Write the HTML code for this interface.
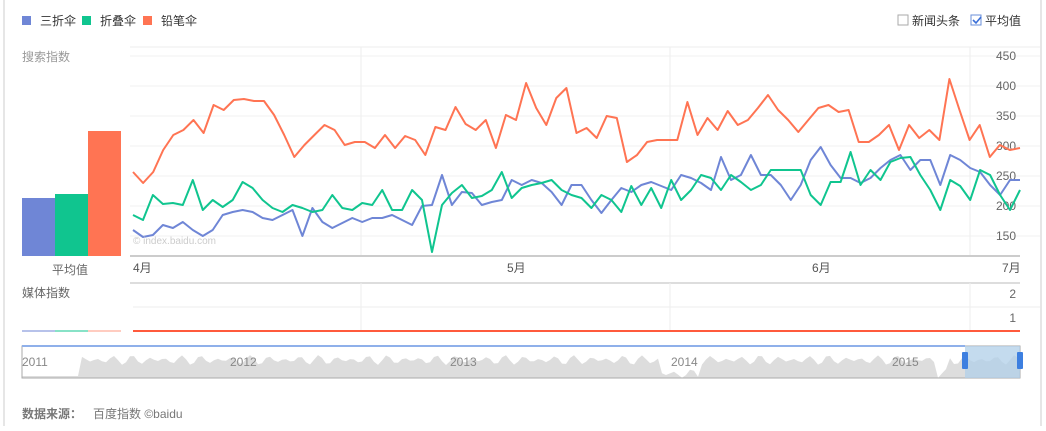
<!DOCTYPE html>
<html><head><meta charset="utf-8"><style>
body{margin:0;width:1046px;height:426px;background:#fff;overflow:hidden;font-family:"Liberation Sans","Noto Sans CJK SC",sans-serif;}
svg text{font-family:"Liberation Sans","Noto Sans CJK SC",sans-serif;}
</style></head><body>
<svg id="s" width="1046" height="426" xmlns="http://www.w3.org/2000/svg">
<line x1="4" y1="0" x2="4" y2="426" stroke="#e6e6e6" stroke-width="2"/>
<line x1="1041" y1="0" x2="1041" y2="426" stroke="#e6e6e6" stroke-width="2"/>
<rect x="22" y="16" width="9" height="9" fill="#6f86d6"/><text x="40" y="25" font-size="12" fill="#333">三折伞</text>
<rect x="82" y="16" width="9" height="9" fill="#10c58f"/><text x="100" y="25" font-size="12" fill="#333">折叠伞</text>
<rect x="143" y="16" width="9" height="9" fill="#ff7453"/><text x="161" y="25" font-size="12" fill="#333">铅笔伞</text>
<rect x="898" y="15" width="10" height="10" fill="#fff" stroke="#aaa"/><text x="912" y="25" font-size="12" fill="#333">新闻头条</text>
<rect x="971" y="15" width="10" height="10" fill="#fff" stroke="#6a8fd8"/><path d="M973 20 l3 3 l5 -6" stroke="#3a6fd8" stroke-width="1.6" fill="none"/><text x="985" y="25" font-size="12" fill="#333">平均值</text>
<text x="22" y="61" font-size="12" fill="#999">搜索指数</text>
<g id="grid"></g>
<rect x="22" y="198" width="33" height="58" fill="#6f86d6"/>
<rect x="55" y="194" width="33" height="62" fill="#10c58f"/>
<rect x="88" y="131" width="33" height="125" fill="#ff7453"/>
<text x="133" y="244" font-size="10" fill="#ccc">© index.baidu.com</text>
<line x1="130" y1="256" x2="1020" y2="256" stroke="#ccc" stroke-width="2"/>
<text x="52" y="274" font-size="12" fill="#666">平均值</text>
<text x="133" y="272" font-size="12" fill="#555">4月</text>
<text x="507" y="272" font-size="12" fill="#555">5月</text>
<text x="812" y="272" font-size="12" fill="#555">6月</text>
<text x="1002" y="272" font-size="12" fill="#555">7月</text>
<line x1="130" y1="283" x2="1020" y2="283" stroke="#ddd" stroke-width="2"/>
<text x="22" y="297" font-size="12" fill="#666">媒体指数</text>
<line x1="133" y1="307" x2="1040" y2="307" stroke="#eee"/>
<line x1="361" y1="283" x2="361" y2="331" stroke="#eee"/>
<line x1="670" y1="283" x2="670" y2="331" stroke="#eee"/>
<line x1="970" y1="283" x2="970" y2="331" stroke="#eee"/>
<text x="1016" y="298" font-size="12" fill="#666" text-anchor="end">2</text>
<text x="1016" y="322" font-size="12" fill="#666" text-anchor="end">1</text>
<line x1="133" y1="331" x2="1020" y2="331" stroke="#ff5a3c" stroke-width="2"/>
<line x1="22" y1="331" x2="55" y2="331" stroke="#6f86d6"/><line x1="55" y1="331" x2="88" y2="331" stroke="#10c58f"/><line x1="88" y1="331" x2="121" y2="331" stroke="#ff9a80"/>
<g id="nav"></g>
<rect x="22" y="346" width="998" height="32" fill="none" stroke="#aaa"/>
<line x1="22" y1="346" x2="965" y2="346" stroke="#8fb0ea" stroke-width="2"/>
<rect x="965" y="346" width="55" height="32" fill="#b0cfe8" opacity="0.75"/>
<rect x="962" y="352" width="6" height="17" fill="#3d7fe0" rx="1"/>
<rect x="1017" y="352" width="6" height="17" fill="#3d7fe0" rx="1"/>
<text x="22" y="366" font-size="12" fill="#888">2011</text>
<text x="230" y="366" font-size="12" fill="#888">2012</text>
<text x="450" y="366" font-size="12" fill="#888">2013</text>
<text x="671" y="366" font-size="12" fill="#888">2014</text>
<text x="892" y="366" font-size="12" fill="#888">2015</text>
<text x="22" y="418" font-size="12" fill="#777" font-weight="bold">数据来源：</text>
<text x="93" y="418" font-size="12" fill="#777">百度指数 ©baidu</text>
</svg>
<script>
var s=document.getElementById('grid'),ns='http://www.w3.org/2000/svg';
function el(t,a,p){var e=document.createElementNS(ns,t);for(var k in a)e.setAttribute(k,a[k]);(p||s).appendChild(e);return e;}
var labs=[450,400,350,300,250,200,150];
labs.forEach(function(v){var y=236-(v-150)*0.6;el('line',{x1:130,y1:y,x2:1040,y2:y,stroke:'#f0f0f0'});var t=el('text',{x:1016,y:y+4,'font-size':12,fill:'#666','text-anchor':'end'});t.textContent=v;});
el('line',{x1:130,y1:47,x2:1040,y2:47,stroke:'#eee'});
[361,670,970].forEach(function(x){el('line',{x1:x,y1:47,x2:x,y2:256,stroke:'#eee'});});
var red=[172,183,172,150,135,130,120,133,105,110,100,99,101,101,115,135,157,145,135,125,130,145,142,142,148,135,148,136,140,155,127,130,107,124,130,120,148,115,120,83,108,125,98,88,133,128,138,116,118,162,155,142,140,140,140,102,135,118,130,111,125,120,108,95,110,120,132,120,108,105,112,110,142,142,135,125,150,125,138,130,140,79,110,140,125,157,145,150,148];
var blue=[230,237,235,225,228,222,230,236,230,215,212,210,212,218,220,215,210,236,208,222,228,223,218,222,218,218,215,220,225,206,205,175,205,192,193,205,202,200,180,185,180,183,192,205,185,185,200,213,200,188,192,185,182,186,190,175,178,183,190,157,180,175,155,175,175,185,200,185,160,147,165,178,178,183,178,168,160,155,170,160,160,185,155,160,168,172,185,195,180,180];
var green=[215,220,195,204,203,205,180,210,200,207,200,182,188,200,208,212,205,208,212,210,195,208,210,203,205,190,210,210,190,200,252,205,193,185,198,196,190,172,198,188,185,183,180,190,195,198,208,195,200,212,186,205,188,208,180,200,190,175,178,190,175,182,190,185,170,170,170,170,195,205,182,182,152,185,170,180,162,158,157,175,190,210,180,186,200,170,175,195,210,190];
function line(d,c){var n=d.length,p=d.map(function(y,i){return (133+i*(1020-133)/(n-1)).toFixed(1)+','+y;}).join(' ');el('polyline',{points:p,fill:'none',stroke:c,'stroke-width':2,'stroke-linejoin':'round'});}
line(blue,'#6f86d6');line(green,'#10c58f');line(red,'#ff7453');
var nv=document.getElementById('nav'),pts='22,378 ';
for(var x=22;x<=1020;x+=4){var y=x<80?376:360+Math.sin(x*0.37)*3+Math.sin(x*1.3)*2+((x>660&&x<700)||(x>935&&x<950)?14:0);pts+=x+','+y.toFixed(1)+' ';}
pts+='1020,378';el('polygon',{points:pts,fill:'#ddd'},nv);
</script>
</body></html>
